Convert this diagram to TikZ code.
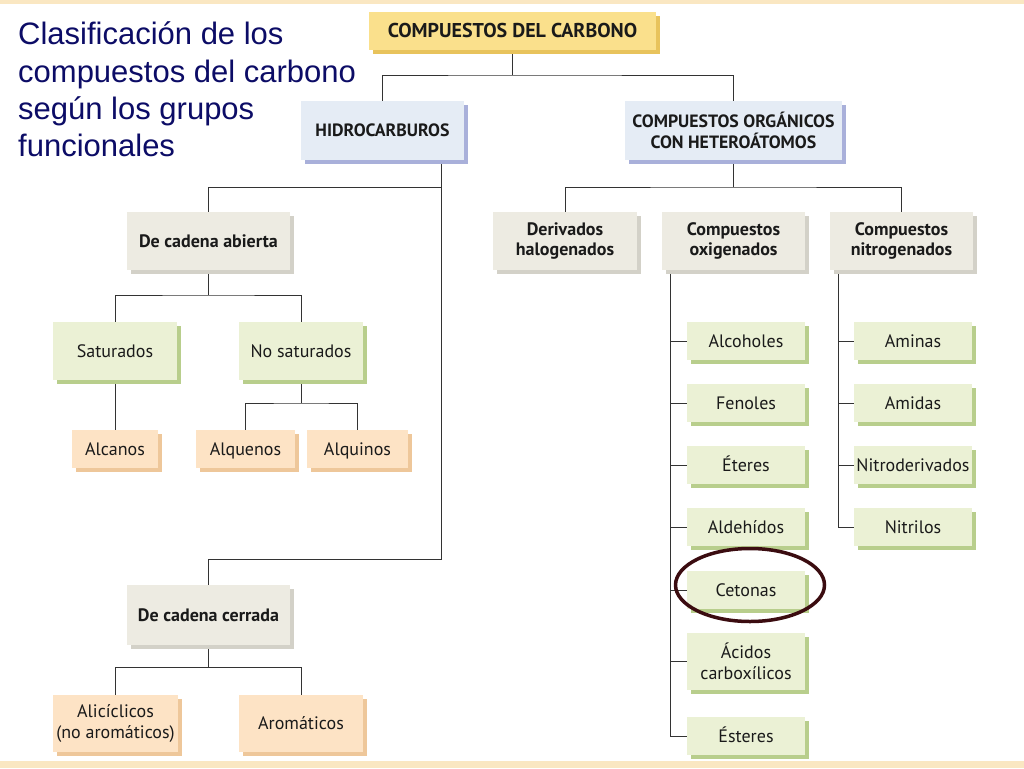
\documentclass[tikz,border=0pt]{standalone}
\usepackage{fontspec}
\setmainfont{Liberation Sans}
\newfontfamily\boxfont{PT Sans}
\usetikzlibrary{shadows,shapes.geometric,backgrounds}
\definecolor{yelF}{HTML}{FAE08C}
\definecolor{yelS}{HTML}{E8C35C}
\definecolor{bluF}{HTML}{E5ECF5}
\definecolor{bluS}{HTML}{A9B0DA}
\definecolor{greF}{HTML}{EDEBE2}
\definecolor{greS}{HTML}{D3D1C8}
\definecolor{grnF}{HTML}{EBF1D5}
\definecolor{grnS}{HTML}{B8CE8C}
\definecolor{pchF}{HTML}{FDE3C5}
\definecolor{pchS}{HTML}{EEC79A}
\definecolor{navy}{HTML}{0C0C66}
\definecolor{txt}{HTML}{1A1A1A}
\definecolor{wire}{HTML}{333333}
\definecolor{ring}{HTML}{3B0C10}
\definecolor{strip}{HTML}{FAE7C2}
\newcommand\labreg{\boxfont\fontsize{18}{20.5}\selectfont}
\newcommand\labbf{\boxfont\bfseries\fontsize{18}{20.5}\selectfont}
\newcommand\labcaps{\boxfont\bfseries\fontsize{17.8}{20.5}\selectfont}
\tikzset{
  box/.style={inner sep=0pt, outer sep=0pt, align=center, text=txt, font=\labreg},
  one/.style={text height=14pt, text depth=2pt},
  capone/.style={text height=12pt, text depth=0pt},
  yelbox/.style={box, fill=yelF, general shadow={fill=yelS, shadow xshift=4pt, shadow yshift=-4pt}},
  blubox/.style={box, fill=bluF, general shadow={fill=bluS, shadow xshift=4pt, shadow yshift=-4pt}},
  grebox/.style={box, fill=greF, general shadow={fill=greS, shadow xshift=4pt, shadow yshift=-4pt}},
  grnbox/.style={box, fill=grnF, general shadow={fill=grnS, shadow xshift=4pt, shadow yshift=-4pt}},
  pchbox/.style={box, fill=pchF, general shadow={fill=pchS, shadow xshift=4pt, shadow yshift=-4pt}},
  conn/.style={draw=wire, line width=1pt},
  titl/.style={anchor=base west, inner sep=0pt, text=navy, font=\fontsize{31}{37}\selectfont}
}
\begin{document}
\begin{tikzpicture}[x=1pt,y=-1pt]
\useasboundingbox (0,0) rectangle (1024,768);

% title
\node[titl] (t1) at (18,45) {Clasificación de los};
\node[titl] (t2) at (18,82) {compuestos del carbono};
\node[titl] (t3) at (18,119) {según los grupos};
\node[titl] (t4) at (18,156) {funcionales};

% boxes
\node[yelbox, minimum width=287pt, minimum height=38pt, font=\boxfont\bfseries\fontsize{20}{22}\selectfont, text height=13pt, text depth=0pt] (carbono) at (512.5,31) {COMPUESTOS DEL CARBONO};
\node[blubox, minimum width=163pt, minimum height=59pt, font=\labcaps, capone] (hidro) at (382.5,130.5) {HIDROCARBUROS};
\node[blubox, minimum width=217pt, minimum height=59pt, font=\labcaps] (org) at (733.5,130.5) {COMPUESTOS ORGÁNICOS\\CON HETEROÁTOMOS};

\node[grebox, minimum width=163pt, minimum height=58pt, font=\labbf, one] (abierta) at (208.5,241) {De cadena abierta};
\node[grnbox, minimum width=124pt, minimum height=58pt, one] (sat) at (115,351) {Saturados};
\node[grnbox, minimum width=124pt, minimum height=58pt, one] (nosat) at (301,351) {No saturados};
\node[pchbox, minimum width=86pt, minimum height=38pt, one] (alcanos) at (115,449) {Alcanos};
\node[pchbox, minimum width=99pt, minimum height=38pt, one] (alquenos) at (245.5,449) {Alquenos};
\node[pchbox, minimum width=101pt, minimum height=38pt, one] (alquinos) at (357.5,449) {Alquinos};

\node[grebox, minimum width=163pt, minimum height=60pt, font=\labbf, one] (cerrada) at (208.5,615) {De cadena cerrada};
\node[pchbox, minimum width=125pt, minimum height=57pt] (alic) at (115.5,723.5) {Alicíclicos\\(no aromáticos)};
\node[pchbox, minimum width=124pt, minimum height=57pt, one] (arom) at (301,723.5) {Aromáticos};

\node[grebox, minimum width=144pt, minimum height=58pt, font=\labbf] (deriv) at (565,241) {Derivados\\halogenados};
\node[grebox, minimum width=143pt, minimum height=58pt, font=\labbf] (oxi) at (733.5,241) {Compuestos\\oxigenados};
\node[grebox, minimum width=143pt, minimum height=58pt, font=\labbf] (nitro) at (901.5,241) {Compuestos\\nitrogenados};

\node[grnbox, minimum width=118pt, minimum height=38pt, one] (alcoh) at (746,341) {Alcoholes};
\node[grnbox, minimum width=118pt, minimum height=38pt, one] (fenol) at (746,403) {Fenoles};
\node[grnbox, minimum width=118pt, minimum height=38pt, one] (eter) at (746,465) {Éteres};
\node[grnbox, minimum width=118pt, minimum height=38pt, one] (aldeh) at (746,527) {Aldehídos};
\node[grnbox, minimum width=118pt, minimum height=38pt, one] (ceton) at (746,590) {Cetonas};
\node[grnbox, minimum width=118pt, minimum height=57pt] (acido) at (746,661.5) {Ácidos\\carboxílicos};
\node[grnbox, minimum width=118pt, minimum height=38pt, one] (ester) at (746,736) {Ésteres};

\node[grnbox, minimum width=118pt, minimum height=38pt, one] (amina) at (913,341) {Aminas};
\node[grnbox, minimum width=118pt, minimum height=38pt, one] (amida) at (913,403) {Amidas};
\node[grnbox, minimum width=118pt, minimum height=38pt, one] (nitrod) at (913,465) {Nitroderivados};
\node[grnbox, minimum width=118pt, minimum height=38pt, one] (nitril) at (913,527) {Nitrilos};

% highlight ring
\node[draw=ring, line width=3.5pt, ellipse, minimum width=149pt, minimum height=73pt, inner sep=0pt] (ringc) at (750,585) {};

% background and connectors
\begin{scope}[on background layer]
\fill[white] (0,0) rectangle (1024,768);
\fill[strip] (0,0) rectangle (1024,4);
\fill[strip] (0,761) rectangle (1024,768);

\coordinate (j1) at (512.5,75);
\draw[conn] (carbono.south) -- (j1);
\draw[conn] (hidro.north) |- (j1) -| (org.north);

\coordinate (hA) at (441,187);
\coordinate (hC) at (441,559);
\draw[conn] (hidro.south -| hA) -- (hC) -| (cerrada.north);
\draw[conn] (abierta.north) |- (hA);

\coordinate (a1) at (208.5,295);
\draw[conn] (abierta.south) -- (a1);
\draw[conn] (sat.north) |- (a1) -| (nosat.north);
\draw[conn] (sat.south) -- (alcanos.north);
\coordinate (n1) at (301,403);
\draw[conn] (nosat.south) -- (n1);
\draw[conn] (alquenos.north) |- (n1) -| (alquinos.north);

\coordinate (c1) at (208.5,667);
\draw[conn] (cerrada.south) -- (c1);
\draw[conn] (alic.north) |- (c1) -| (arom.north);

\coordinate (o1) at (733.5,187);
\draw[conn] (org.south) -- (o1);
\draw[conn] (deriv.north) |- (o1) -| (nitro.north);

\coordinate (ox) at (670,300);
\draw[conn] (oxi.south -| ox) |- (ester.west);
\foreach \n in {alcoh,fenol,eter,aldeh,ceton,acido}{
  \draw[conn] (\n.west -| ox) -- (\n.west);
}
\coordinate (nx) at (838,300);
\draw[conn] (nitro.south -| nx) |- (nitril.west);
\foreach \n in {amina,amida,nitrod}{
  \draw[conn] (\n.west -| nx) -- (\n.west);
}
\end{scope}
\end{tikzpicture}
\end{document}
